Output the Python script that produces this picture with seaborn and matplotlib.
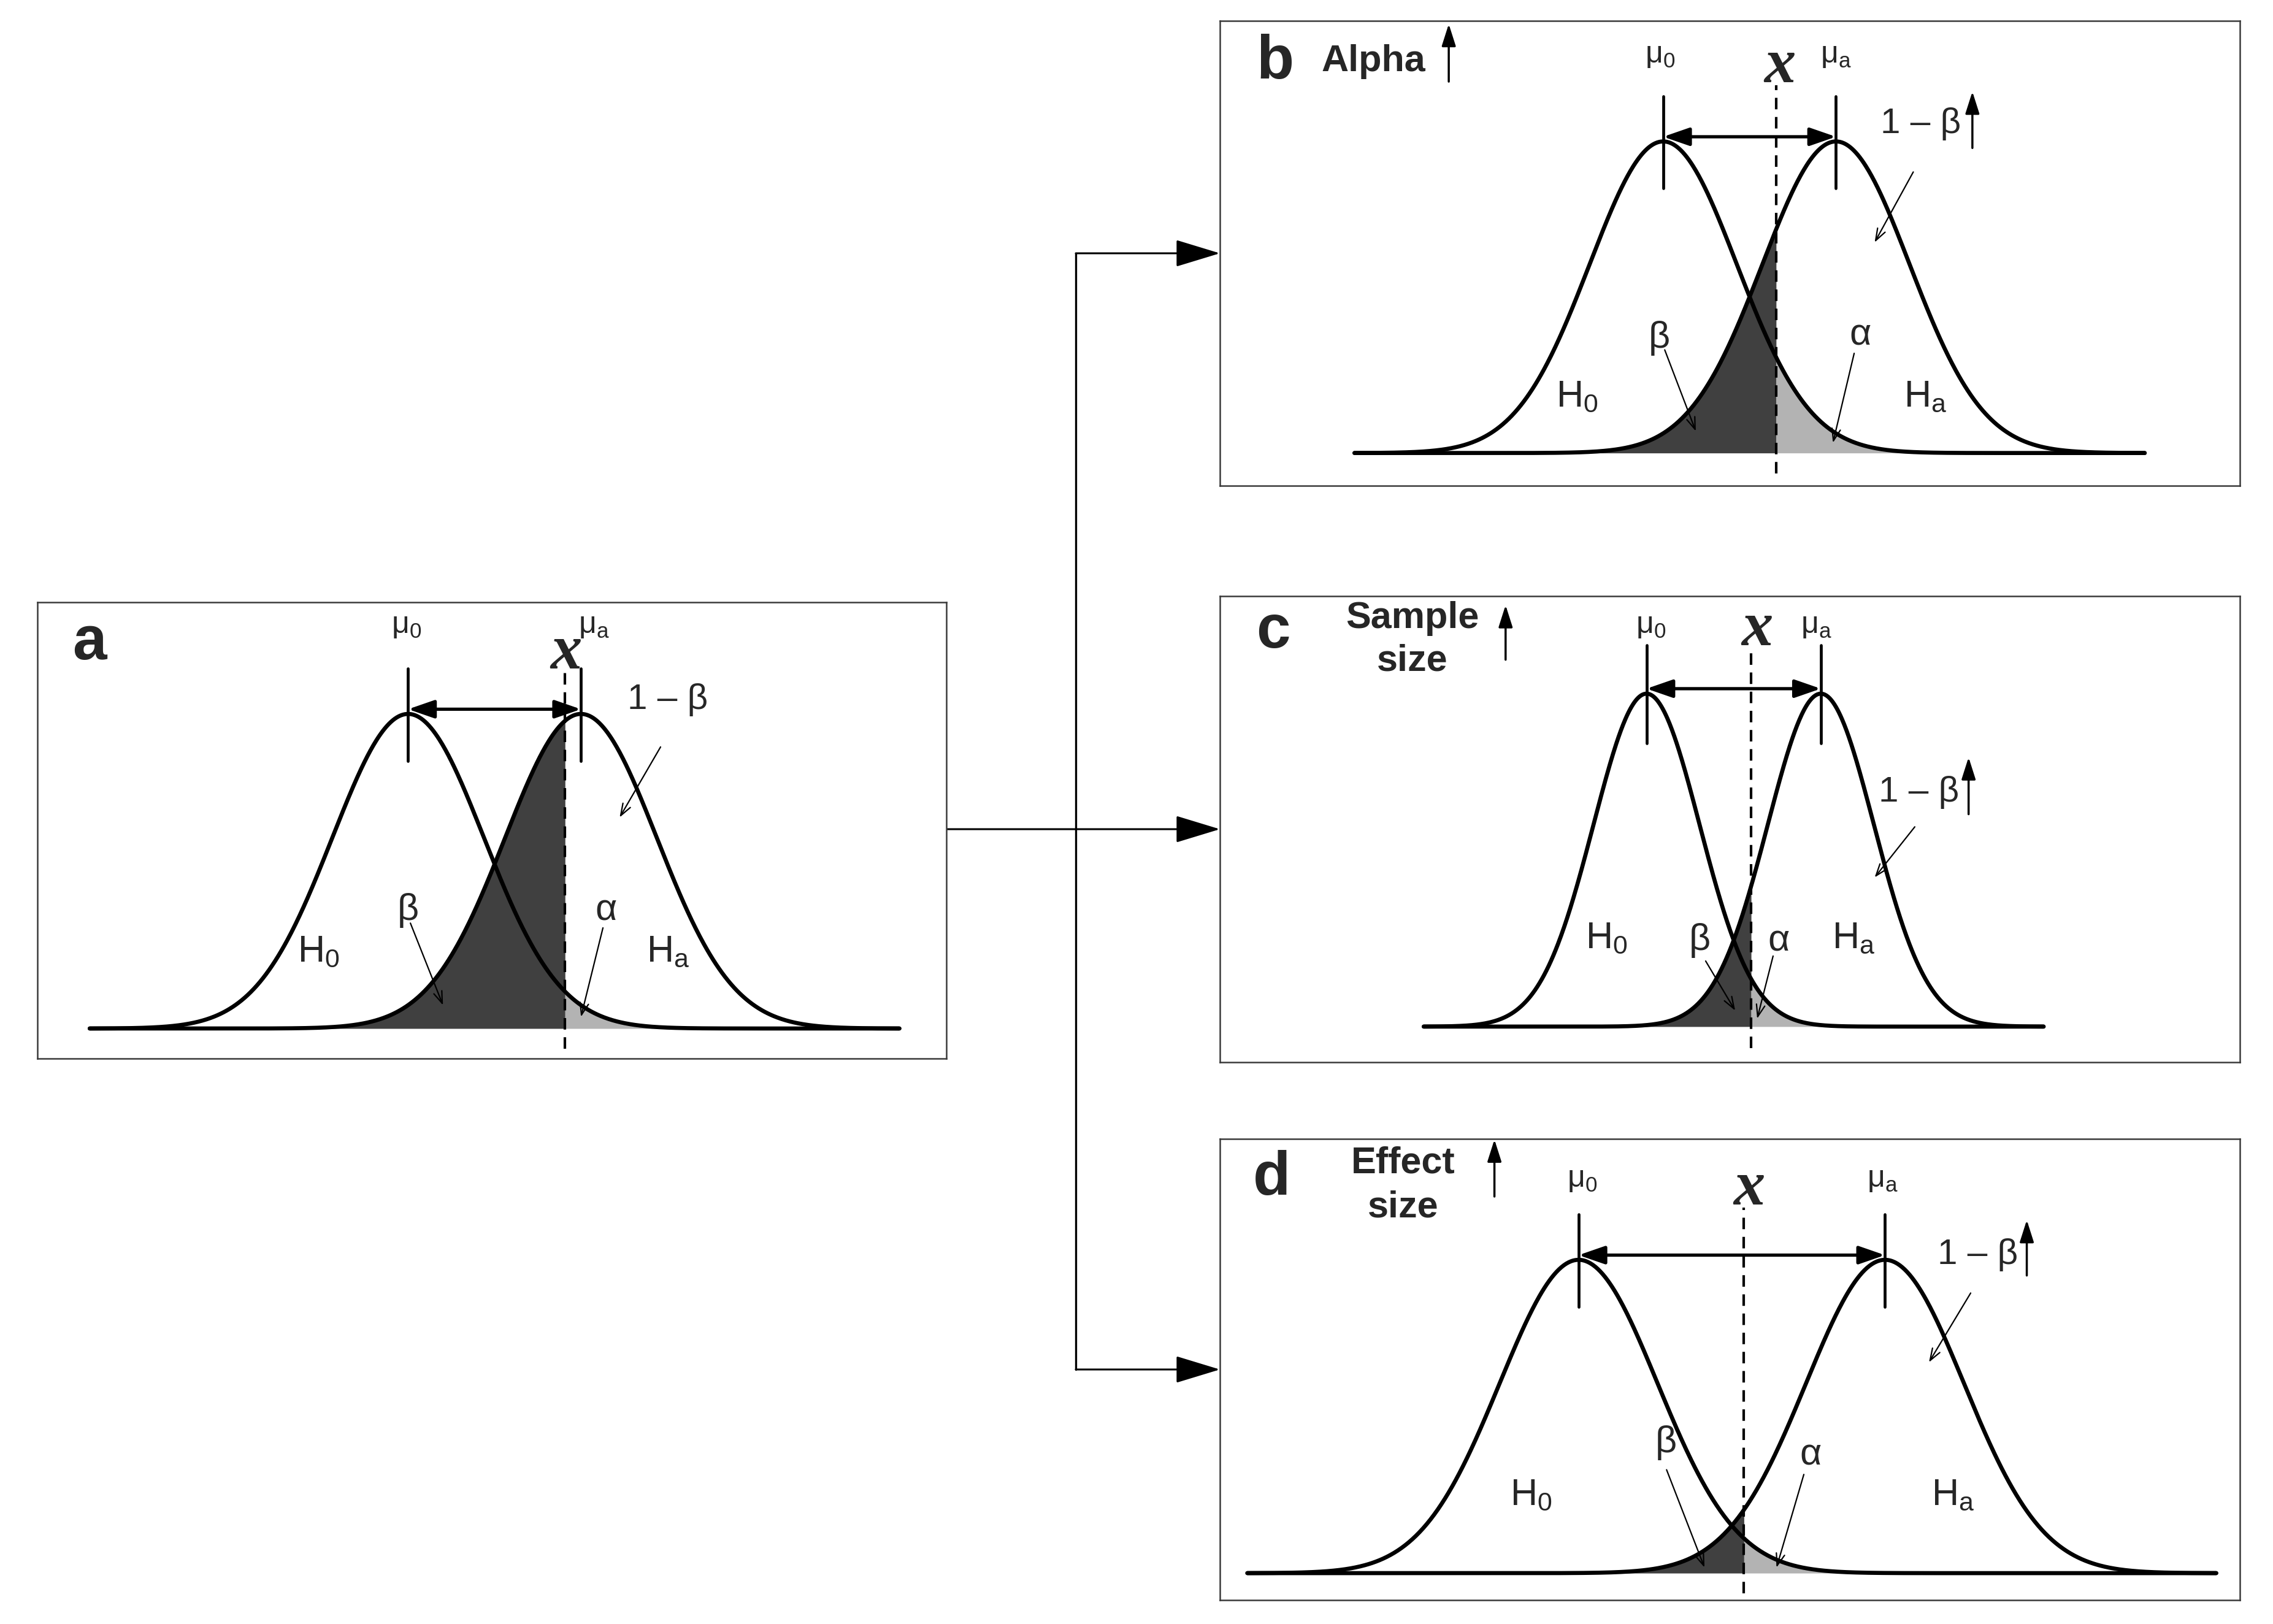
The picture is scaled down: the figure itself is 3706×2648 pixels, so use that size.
import numpy as np
import pandas as pd
import seaborn as sns
import matplotlib
matplotlib.use('Agg')
import matplotlib.pyplot as plt
from matplotlib import font_manager
from matplotlib.patches import FancyArrowPatch

# Distribution parameters per panel (x in units of the panel-a SD, curves scaled to unit peak)
panels = ['a', 'b', 'c', 'd']
mu_0 = [0.0, 0.0, 0.0, 0.0]
mu_a = [2.28, 2.28, 2.30, 4.04]
sd = [1.00, 0.97, 0.70, 1.04]
crit = [2.07, 1.49, 1.38, 2.18]
tail = 4.2  # curves run 4.2 SD past each mean

# Panel boxes in figure pixels (left, top, right, bottom) and data window
W, H = 3706, 2648
boxes = [(61, 982, 1543, 1726), (1989, 34, 3652, 792),
         (1989, 972, 3652, 1732), (1989, 1857, 3652, 2609)]
xlims = [(-4.89, 7.10), (-5.85, 7.61), (-5.63, 7.83), (-4.73, 8.72)]
ylims = [(-0.0955, 1.355), (-0.105, 1.387), (-0.107, 1.293), (-0.086, 1.386)]

# label placement (data coords of each panel)
letter_xy = [(-4.20, 1.173), (-5.12, 1.202), (-4.93, 1.139), (-4.05, 1.207)]
head_lines = [[],
              [('Alpha', -4.51, 1.225, 'left')],
              [('Sample', -3.09, 1.198, 'center'), ('size', -3.09, 1.069, 'center')],
              [('Effect', -2.31, 1.278, 'center'), ('size', -2.31, 1.137, 'center')]]
head_arrow = [None, (-2.83, 1.192, 1.377), (-1.86, 1.102, 1.266), (-1.11, 1.202, 1.384)]
mu_lab = [(-0.02, 2.45, 1.257), (-0.04, 2.28, 1.253), (0.06, 2.24, 1.183), (0.05, 4.01, 1.233)]
x_lab = [(2.08, 1.144), (1.54, 1.19), (1.46, 1.146), (2.25, 1.176)]
pow_lab = [(3.42, 1.016), (3.40, 1.027), (3.59, 0.675), (5.26, 0.986)]
pow_up = [None, (4.08, 0.979, 1.16), (4.25, 0.638, 0.809), (5.91, 0.95, 1.127)]
pow_arrow = [((3.33, 0.895), (2.79, 0.671)), ((3.30, 0.902), (2.79, 0.676)),
             ((3.54, 0.600), (3.01, 0.448)), ((5.17, 0.894), (4.62, 0.673))]
beta_lab = [(0.0, 0.345), (-0.05, 0.338), (0.70, 0.23), (1.15, 0.385)]
beta_arrow = [((0.03, 0.335), (0.46, 0.074)), ((0.02, 0.331), (0.43, 0.07)),
              ((0.78, 0.197), (1.17, 0.048)), ((1.16, 0.33), (1.66, 0.018))]
alpha_lab = [(2.61, 0.345), (2.60, 0.347), (1.74, 0.227), (3.06, 0.346)]
alpha_arrow = [((2.57, 0.32), (2.28, 0.037)), ((2.52, 0.32), (2.24, 0.033)),
               ((1.67, 0.212), (1.46, 0.024)), ((2.97, 0.315), (2.61, 0.018))]
h_lab = [(-1.18, 3.43, 0.214), (-1.14, 3.46, 0.15), (-0.53, 2.73, 0.236), (-0.63, 4.94, 0.219)]

sns.set_style('white')
names = {f.name for f in font_manager.fontManager.ttflist}
narrow = 'Liberation Sans Narrow' if 'Liberation Sans Narrow' in names else 'Liberation Sans'
plt.rcParams['font.family'] = [narrow, 'DejaVu Sans']
plt.rcParams['mathtext.default'] = 'regular'

fig = plt.figure(figsize=(W / 100, H / 100), dpi=100)


def arrow(ax, start, end, style, lw):
    ax.add_patch(FancyArrowPatch(start, end, arrowstyle=style, mutation_scale=1,
                                 lw=lw, color='black', shrinkA=0, shrinkB=0,
                                 zorder=5, clip_on=False))


for i, p in enumerate(panels):
    l, t, r, b = boxes[i]
    ax = fig.add_axes([l / W, 1 - b / H, (r - l) / W, (b - t) / H])

    lo, hi = mu_0[i] - tail * sd[i], mu_a[i] + tail * sd[i]
    x = np.sort(np.append(np.linspace(lo, hi, 800), crit[i]))
    y0 = np.exp(-0.5 * ((x - mu_0[i]) / sd[i]) ** 2)
    ya = np.exp(-0.5 * ((x - mu_a[i]) / sd[i]) ** 2)
    df = pd.DataFrame({'x': np.concatenate([x, x]),
                       'y': np.concatenate([y0, ya]),
                       'hyp': ['H0'] * len(x) + ['Ha'] * len(x)})

    left = x <= crit[i]
    right = x >= crit[i]
    ax.fill_between(x[left], ya[left], color='#404040', lw=0, zorder=1)
    ax.fill_between(x[right], y0[right], color='#b3b3b3', lw=0, zorder=1)
    sns.lineplot(data=df, x='x', y='y', hue='hyp', palette=['black', 'black'],
                 estimator=None, sort=False, lw=4.8, legend=False, ax=ax, zorder=3)

    # critical value
    ax.plot([crit[i], crit[i]], [-0.065, x_lab[i][1] - 0.01], color='black',
            lw=3.0, ls=(0, (4.5, 3)), zorder=4)
    # mean markers and distance arrow
    for m in (mu_0[i], mu_a[i]):
        ax.plot([m, m], [0.85, 1.145], color='black', lw=3.4, zorder=4)
    arrow(ax, (mu_0[i], 1.015), (mu_a[i], 1.015),
          '<|-|>,head_length=26,head_width=9', 3.8)

    # labels
    ax.text(*letter_xy[i], p, fontsize=72, fontweight='bold', ha='center', va='baseline')
    for txt, tx, ty, ha in head_lines[i]:
        ax.text(tx, ty, txt, fontsize=44, fontweight='bold', ha=ha, va='baseline')
    if head_arrow[i]:
        hx, hy0, hy1 = head_arrow[i]
        arrow(ax, (hx, hy0), (hx, hy1), '-|>,head_length=22,head_width=7', 2.5)

    m0x, max_, my = mu_lab[i]
    ax.text(m0x, my, '$μ_0$', fontsize=36, ha='center', va='baseline')
    ax.text(max_, my, '$μ_a$', fontsize=36, ha='center', va='baseline')
    ax.text(*x_lab[i], 'x', fontsize=74, family='Liberation Serif', fontweight='bold',
            style='italic', ha='center', va='baseline')

    ax.text(*pow_lab[i], '1 – β', fontsize=42, ha='center', va='baseline')
    if pow_up[i]:
        ux, uy0, uy1 = pow_up[i]
        arrow(ax, (ux, uy0), (ux, uy1), '-|>,head_length=22,head_width=7', 2.5)
    arrow(ax, *pow_arrow[i], '->,head_length=14,head_width=5', 1.6)

    ax.text(*beta_lab[i], 'β', fontsize=44, ha='center', va='baseline')
    arrow(ax, *beta_arrow[i], '->,head_length=14,head_width=5', 1.6)
    ax.text(*alpha_lab[i], 'α', fontsize=44, ha='center', va='baseline')
    arrow(ax, *alpha_arrow[i], '->,head_length=14,head_width=5', 1.6)

    h0x, hax, hy = h_lab[i]
    ax.text(h0x, hy, '$H_0$', fontsize=44, ha='center', va='baseline')
    ax.text(hax, hy, '$H_a$', fontsize=44, ha='center', va='baseline')

    ax.set_xlim(*xlims[i])
    ax.set_ylim(*ylims[i])
    ax.set(xticks=[], yticks=[], xlabel='', ylabel='')
    for s in ax.spines.values():
        s.set_visible(True)
        s.set_color('#3a3a3a')
        s.set_linewidth(1.8)

# connectors from panel a to panels b-d (figure pixel coords)
ov = fig.add_axes([0, 0, 1, 1], zorder=-1)
ov.set_xlim(0, W)
ov.set_ylim(H, 0)
ov.axis('off')
mids = [(bx[1] + bx[3]) / 2 for bx in boxes]
trunk_x = 1754
ov.plot([trunk_x, trunk_x], [mids[1], mids[3]], color='black', lw=2.4)
head = '-|>,head_length=46,head_width=14'
arrow(ov, (boxes[0][2], mids[2]), (boxes[2][0], mids[2]), head, 2.2)
arrow(ov, (trunk_x, mids[1]), (boxes[1][0], mids[1]), head, 2.2)
arrow(ov, (trunk_x, mids[3]), (boxes[3][0], mids[3]), head, 2.2)

fig.savefig('out.png', dpi=100, facecolor='white')
